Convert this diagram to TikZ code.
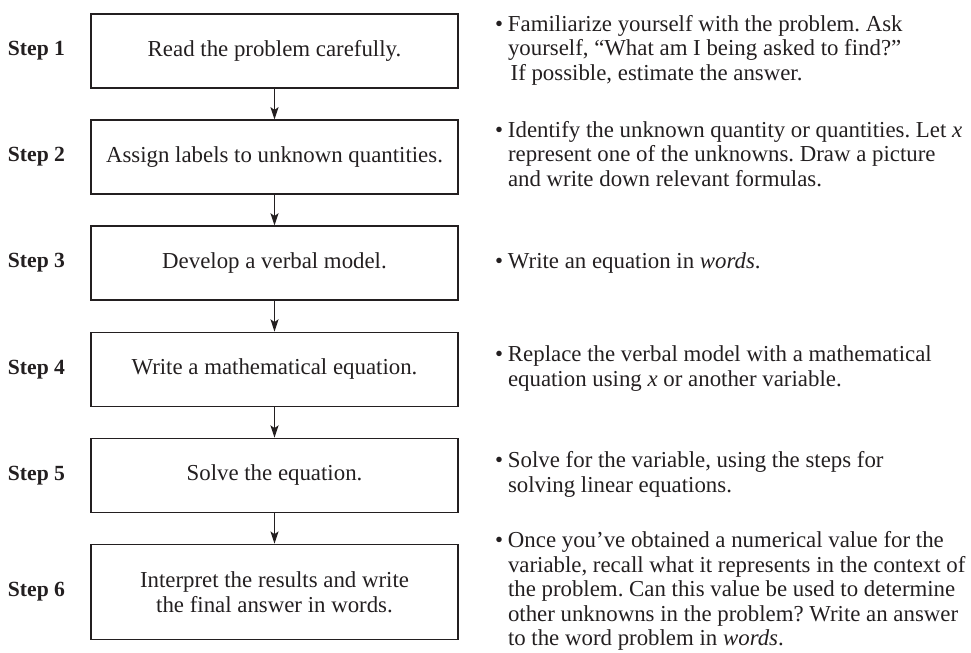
\documentclass[tikz,border=0pt]{standalone}
\usepackage{fontspec}
\setmainfont{Liberation Serif}
\usepackage{tikz}
\usetikzlibrary{arrows.meta, positioning}
\definecolor{inkblack}{RGB}{35, 31, 32}
\newcommand{\bulletnote}[1]{\makebox[0.26cm][l]{\textbullet}%
    \begin{tabular}[t]{@{}l@{}}#1\end{tabular}}

\begin{document}
\begin{tikzpicture}[
    >={Stealth[length=7pt, width=4.6pt, inset=1.6pt]},
    stepbox/.style={draw=inkblack, line width=0.75pt, align=center, inner sep=0pt,
        minimum width=7.34cm, minimum height=1.48cm, text=inkblack,
        font=\fontsize{13}{14.2}\selectfont},
    steplabel/.style={inner sep=0pt, text=inkblack, font=\fontsize{12.3}{14}\selectfont\bfseries},
    note/.style={inner sep=0pt, text=inkblack,
        font=\fontsize{13}{14}\selectfont\frenchspacing},
    flow/.style={->, draw=inkblack, line width=0.6pt}
]
    \useasboundingbox (0,0) rectangle (19.42,-13.04);

    % the six boxes
    \node[stepbox] (s1) at (5.49,-1.02) {Read the problem carefully.};
    \node[stepbox, below=0.615cm of s1] (s2) {Assign labels to unknown quantities.};
    \node[stepbox, below=0.615cm of s2] (s3) {Develop a verbal model.};
    \node[stepbox, below=0.615cm of s3] (s4) {Write a mathematical equation.};
    \node[stepbox, below=0.615cm of s4] (s5) {Solve the equation.};
    \node[stepbox, below=0.615cm of s5, minimum height=1.9cm] (s6)
        {Interpret the results and write\\the final answer in words.};

    % labels on the left
    \foreach \i in {1,...,6}
        \node[steplabel, left=0.5cm of s\i] (l\i) {Step \i};

    % notes on the right
    \node[note, right=0.72cm of s1] (n1)
        {\bulletnote{Familiarize yourself with the problem. Ask\\yourself, “What am I being asked to find?”\\\hspace{1.5pt}If possible, estimate the answer.}};
    \node[note, right=0.72cm of s2] (n2)
        {\bulletnote{Identify the unknown quantity or quantities. Let \textit{x}\\represent one of the unknowns. Draw a picture\\and write down relevant formulas.}};
    \node[note, right=0.72cm of s3] (n3)
        {\bulletnote{Write an equation in \textit{words}.}};
    \node[note, right=0.72cm of s4] (n4)
        {\bulletnote{Replace the verbal model with a mathematical\\equation using \textit{x} or another variable.}};
    \node[note, right=0.72cm of s5] (n5)
        {\bulletnote{Solve for the variable, using the steps for\\solving linear equations.}};
    \node[note, right=0.72cm of s6] (n6)
        {\bulletnote{Once you’ve obtained a numerical value for the\\variable, recall what it represents in the context of\\the problem. Can this value be used to determine\\other unknowns in the problem? Write an answer\\to the word problem in \textit{words}.}};

    \draw[flow] (s1) -- (s2);
    \draw[flow] (s2) -- (s3);
    \draw[flow] (s3) -- (s4);
    \draw[flow] (s4) -- (s5);
    \draw[flow] (s5) -- (s6);
\end{tikzpicture}
\end{document}
